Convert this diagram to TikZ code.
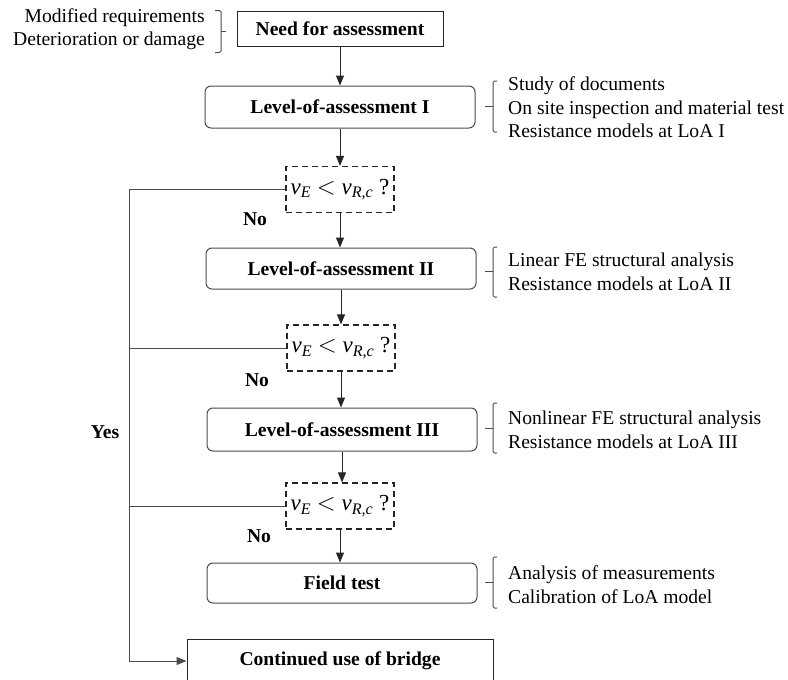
\documentclass[tikz,border=0pt]{standalone}
\usepackage{fontspec}
\setmainfont{Liberation Serif}
\usetikzlibrary{arrows.meta}
\newcommand{\vcond}{{\itshape v}\textsubscript{\itshape E}\ $<$\ {\itshape v}\textsubscript{\itshape R,c}\ ?}
\begin{document}
\begin{tikzpicture}[x=1pt,y=-1pt,
  font=\fontsize{19.6}{23.5}\selectfont,
  plainbox/.style={draw=black!85, line width=1pt, inner sep=0pt, font=\fontsize{19.6}{23.5}\selectfont\bfseries},
  loabox/.style={plainbox, rounded corners=6pt, draw=black!70, minimum width=270pt, minimum height=42pt},
  decbox/.style={draw=black!85, dash pattern=on 6pt off 4pt, line width=1.2pt, minimum width=108pt, minimum height=46pt, inner sep=0pt, font=\fontsize{23}{26}\selectfont},
  flow/.style={draw=black!85, line width=1pt, -{Triangle[length=10pt,width=8pt]}},
  yesline/.style={draw=black!70, line width=1pt},
  note/.style={anchor=west, align=left, inner sep=0pt},
  brk/.style={draw=black!70, line width=1pt, rounded corners=1.5pt},
  lbl/.style={font=\fontsize{19.6}{23.5}\selectfont\bfseries, inner sep=0pt}
]
\clip (0,0) rectangle (788,680);
\fill[white] (0,0) rectangle (788,680);

% main boxes
\node[plainbox, minimum width=206pt, minimum height=35pt] (need) at (340,28.5) {Need for assessment};
\node[loabox] (loa1) at (340,107) {Level-of-assessment I};
\node[decbox] (dec1) at (340,189.5) {\vcond};
\node[loabox, minimum height=41pt] (loa2) at (341,268.5) {Level-of-assessment II};
\node[decbox] (dec2) at (341,348) {\vcond};
\node[loabox, minimum height=43pt] (loa3) at (342,429.5) {Level-of-assessment III};
\node[decbox] (dec3) at (340,506) {\vcond};
\node[loabox, minimum height=40pt] (field) at (342,583) {Field test};
\node[plainbox, minimum width=306pt, minimum height=44pt] (cont) at (340,661) {Continued use of bridge};

% flow arrows
\draw[flow] (need.south) -- (need.south |- loa1.north);
\draw[flow] (loa1.south) -- (loa1.south |- dec1.north);
\draw[flow] (dec1.south) -- (dec1.south |- loa2.north);
\draw[flow] (loa2.south) -- (loa2.south |- dec2.north);
\draw[flow] (dec2.south) -- (dec2.south |- loa3.north);
\draw[flow] (loa3.south) -- (loa3.south |- dec3.north);
\draw[flow] (dec3.south) -- (dec3.south |- field.north);

% yes branch
\coordinate (ytop) at (129,189.5);
\coordinate (ybot) at (129,661);
\draw[yesline] (dec1.west) -- (ytop) -- (ybot);
\draw[flow, draw=black!70] (ybot) -- (cont.west);
\draw[yesline] (dec2.west) -- (dec2.west -| ytop);
\draw[yesline] (dec3.west) -- (dec3.west -| ytop);

% labels
\node[lbl] (no1) at (255,219) {No};
\node[lbl] (no2) at (257,380) {No};
\node[lbl] (no3) at (259,536) {No};
\node[lbl] (yes) at (105,432) {Yes};

% top-left notes
\node[anchor=east, align=right, inner sep=0pt] (reasons) at (205,29) {Modified requirements\\Deterioration or damage};
\draw[brk] (215,10.5) -- (221,10.5) -- (221,52.5) -- (215,52.5);
\draw[brk] (221,31) -- (226,31);

% right notes
\node[note] (n1) at (508,107.5) {Study of documents\\On site inspection and material test\\Resistance models at LoA I};
\draw[brk] (497,81) -- (493,81) -- (493,132) -- (497,132);
\draw[brk] (493,106) -- (485,106);

\node[note] (n2) at (508,272) {Linear FE structural analysis\\Resistance models at LoA II};
\draw[brk] (497,247) -- (493,247) -- (493,297) -- (497,297);
\draw[brk] (493,271) -- (485,271);

\node[note] (n3) at (508,430) {Nonlinear FE structural analysis\\Resistance models at LoA III};
\draw[brk] (497,403) -- (493,403) -- (493,453) -- (497,453);
\draw[brk] (493,428) -- (485,428);

\node[note] (n4) at (508,584.5) {Analysis of measurements\\Calibration of LoA model};
\draw[brk] (497,557) -- (493,557) -- (493,608) -- (497,608);
\draw[brk] (493,582) -- (485,582);
\end{tikzpicture}
\end{document}
